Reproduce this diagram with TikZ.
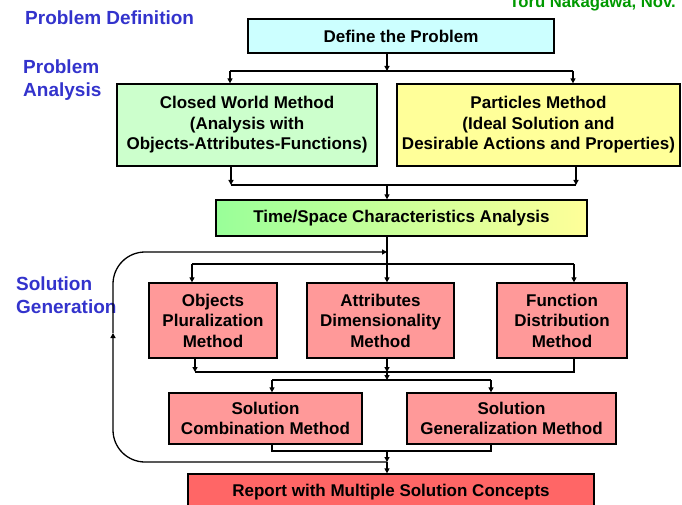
\documentclass[tikz,border=0pt]{standalone}
\usepackage{fontspec}
\setmainfont{Liberation Sans}
\usetikzlibrary{arrows.meta,calc}
\definecolor{lblue}{RGB}{51,51,204}
\definecolor{authgreen}{RGB}{0,153,0}
\definecolor{cyanbox}{RGB}{204,255,255}
\definecolor{greenbox}{RGB}{204,255,204}
\definecolor{yellowbox}{RGB}{255,255,153}
\definecolor{gradgreen}{RGB}{153,255,153}
\definecolor{pinkbox}{RGB}{255,153,153}
\definecolor{redbox}{RGB}{255,102,102}
\begin{document}
\begin{tikzpicture}[x=1pt,y=-1pt,
  box/.style={draw=black, line width=1.3pt, align=center, inner sep=0pt,
    font=\bfseries\fontsize{17}{20.5}\selectfont},
  con/.style={line width=1.3pt},
  arr/.style={con, -{Triangle[length=5pt,width=5pt]}},
  lab/.style={text=lblue, font=\bfseries\fontsize{19}{22.5}\selectfont,
    align=left, inner sep=0pt}]
\useasboundingbox (0,0) rectangle (682,505);

% stage labels
\node[lab, anchor=base west] (lpd) at (25,24.5) {Problem Definition};
\node[lab, anchor=west] (lpa) at (23,80) {Problem\\Analysis};
\node[lab, anchor=west] (lsg) at (16,295) {Solution\\Generation};
\node[text=authgreen, font=\bfseries\fontsize{16.7}{20}\selectfont,
  inner sep=0pt, anchor=base east] (auth) at (676,8) {Toru Nakagawa, Nov.};

% boxes
\node[box, fill=cyanbox, minimum width=306pt, minimum height=34pt]
  (def) at (401,36) {Define the Problem};
\node[box, fill=greenbox, minimum width=260pt, minimum height=82pt]
  (cw) at (247,125) {Closed World Method\\(Analysis with\\Objects-Attributes-Functions)};
\node[box, fill=yellowbox, minimum width=283pt, minimum height=82pt]
  (pm) at (538.5,125) {Particles Method\\(Ideal Solution and\\Desirable Actions and Properties)};
\node[box, left color=gradgreen, right color=yellowbox, minimum width=371pt, minimum height=36pt]
  (ts) at (401.5,218) {Time/Space Characteristics Analysis};
\node[box, fill=pinkbox, minimum width=128pt, minimum height=75pt]
  (obj) at (213,320.5) {Objects\\Pluralization\\Method};
\node[box, fill=pinkbox, minimum width=147pt, minimum height=75pt]
  (att) at (380.5,320.5) {Attributes\\Dimensionality\\Method};
\node[box, fill=pinkbox, minimum width=130pt, minimum height=75pt]
  (fun) at (562,320.5) {Function\\Distribution\\Method};
\node[box, fill=pinkbox, minimum width=193pt, minimum height=51pt]
  (comb) at (265.5,418.5) {Solution\\Combination Method};
\node[box, fill=pinkbox, minimum width=209pt, minimum height=51pt]
  (gen) at (511.5,418.5) {Solution\\Generalization Method};
\node[box, fill=redbox, minimum width=406pt, minimum height=36pt]
  (rep) at (391,492) {Report with Multiple Solution Concepts};

% junction points
\coordinate (s1) at (387,71);   \coordinate (s1l) at (230,71);  \coordinate (s1r) at (573,71);
\coordinate (m1) at (387,185);  \coordinate (m1l) at (231,185); \coordinate (m1r) at (576,185);
\coordinate (fb) at (387,252);
\coordinate (s2) at (387,264);  \coordinate (s2l) at (192,264); \coordinate (s2r) at (574,264);
\coordinate (m2) at (387,372);  \coordinate (m2l) at (195,372); \coordinate (m2r) at (574,372);
\coordinate (s3) at (387,380);  \coordinate (s3l) at (272,380); \coordinate (s3r) at (491,380);
\coordinate (m3) at (387,451);
\coordinate (m4) at (387,462);
\coordinate (lb) at (113,462);  \coordinate (fbl) at (113,333); \coordinate (lt) at (113,252);

% definition -> analysis
\draw[arr] (def.south -| s1) -- (s1);
\draw[con] (s1l) -- (s1r);
\draw[arr] (s1l) -- (cw.north -| s1l);
\draw[arr] (s1r) -- (pm.north -| s1r);

% analysis -> time/space
\draw[arr] (cw.south -| m1l) -- (m1l);
\draw[arr] (pm.south -| m1r) -- (m1r);
\draw[con] (m1l) -- (m1r);
\draw[arr] (m1) -- (ts.north -| m1);

% time/space -> three methods
\draw[arr] (ts.south -| s2) -- (att.north -| s2);
\draw[con] (s2l) -- (s2r);
\draw[arr] (s2l) -- (obj.north -| s2l);
\draw[arr] (s2r) -- (fun.north -| s2r);

% three methods -> combination / generalization
\draw[arr] (obj.south -| m2l) -- (m2l);
\draw[arr] (att.south -| m2) -- (m2);
\draw[con] (fun.south -| m2r) -- (m2r) -- (m2l);
\draw[arr] (m2) -- (s3);
\draw[con] (s3l) -- (s3r);
\draw[arr] (s3l) -- (comb.north -| s3l);
\draw[arr] (s3r) -- (gen.north -| s3r);

% -> report
\draw[con] (comb.south -| s3l) -- (s3l |- m3) -- (s3r |- m3) -- (gen.south -| s3r);
\draw[arr] (m3) -- (m4);
\draw[arr] (m4) -- (rep.north -| m4);

% feedback loop
\draw[arr, rounded corners=32pt] (m4) -- (lb) -- (fbl);
\draw[arr, rounded corners=32pt] (fbl) -- (lt) -- (fb);
\end{tikzpicture}
\end{document}
